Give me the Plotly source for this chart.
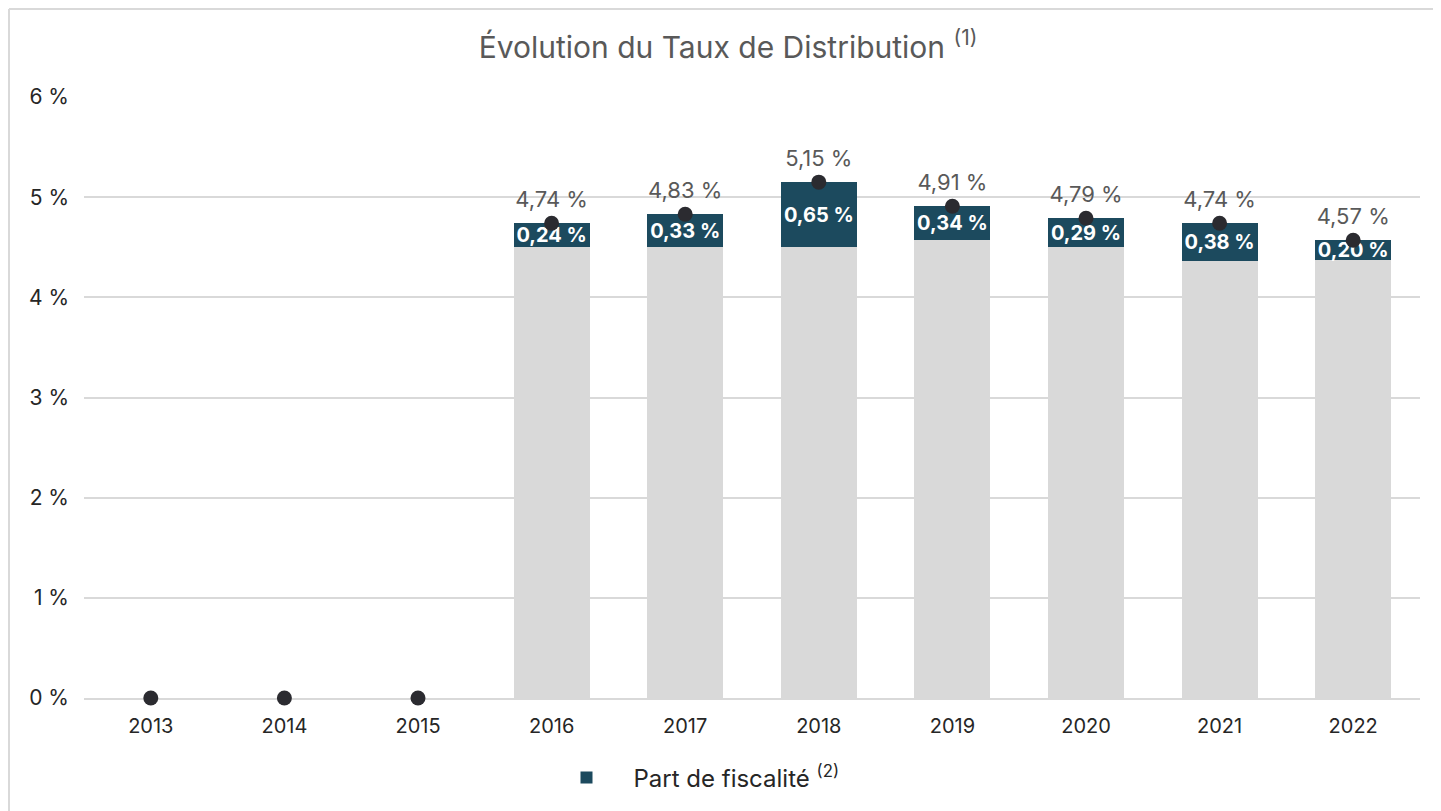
import plotly.graph_objects as go

years = ["2013", "2014", "2015", "2016", "2017", "2018", "2019", "2020", "2021", "2022"]
total_rate = [0, 0, 0, 4.74, 4.83, 5.15, 4.91, 4.79, 4.74, 4.57]
tax_share = [None, None, None, 0.24, 0.33, 0.65, 0.34, 0.29, 0.38, 0.20]
y_ticks = [0, 1, 2, 3, 4, 5, 6]

def fr(v):
    return f"{v:.2f}".replace(".", ",") + " %"

# years with a tax share (labelled points)
lab_years = [y for y, t in zip(years, tax_share) if t is not None]
lab_total = [tot for tot, t in zip(total_rate, tax_share) if t is not None]
lab_tax = [t for t in tax_share if t is not None]
lab_base = [round(tot - t, 2) for tot, t in zip(lab_total, lab_tax)]
zero_years = [y for y, t in zip(years, tax_share) if t is None]
zero_total = [tot for tot, t in zip(total_rate, tax_share) if t is None]

FONT = "Inter"
OFF = 8  # page body margin
W, H = 1441 - OFF, 811 - OFF
L, R, T, B = 84 - OFF, 21, 97 - OFF, 113
pw, ph = W - L - R, H - T - B

fig = go.Figure()
fig.add_trace(go.Bar(
    x=lab_years, y=lab_base, marker=dict(color="#d9d9d9", line=dict(width=0)),
    showlegend=False, hoverinfo="skip", name="Base",
))
fig.add_trace(go.Bar(
    x=lab_years, y=lab_tax, marker=dict(color="#1c4a5e", line=dict(width=0)),
    name="Part de fiscalité <sup>(2)</sup>",
    text=[fr(t) for t in lab_tax], textposition="inside", insidetextanchor="middle",
    constraintext="none",
    textfont=dict(family=FONT, size=20, color="white", weight="bold"),
))
fig.add_trace(go.Scatter(
    x=zero_years, y=zero_total, mode="markers",
    marker=dict(color="#2b2b30", size=15), cliponaxis=False,
    showlegend=False, name="Taux 0",
))
fig.add_trace(go.Scatter(
    x=lab_years, y=lab_total, mode="markers+text",
    marker=dict(color="#2b2b30", size=15), cliponaxis=False,
    text=[fr(v) for v in lab_total], textposition="top center",
    textfont=dict(family=FONT, size=22, color="#595959"),
    showlegend=False, name="Taux",
))

fig.update_layout(
    width=W, height=H,
    barmode="stack", bargap=0.43,
    plot_bgcolor="white", paper_bgcolor="white",
    margin=dict(l=L, r=R, t=T, b=B, autoexpand=False),
    font=dict(family=FONT, color="#262626"),
    title=dict(
        text="Évolution du Taux de Distribution <sup>(1)</sup>",
        font=dict(family=FONT, size=30, color="#595959"),
        xref="container", x=720 / W, xanchor="center",
        yref="container", y=1 - 39 / H, yanchor="middle",
    ),
    xaxis=dict(
        type="category", categoryarray=years, categoryorder="array",
        range=[-0.5, len(years) - 0.5], layer="below traces",
        showgrid=False, showline=True, linecolor="#d9d9d9", linewidth=2,
        tickfont=dict(family=FONT, size=20, color="#262626"), ticks="",
        ticklabelstandoff=9,
    ),
    yaxis=dict(
        range=[0, 6], tickvals=y_ticks, ticktext=[f"{v} %" for v in y_ticks],
        showgrid=True, gridcolor="#d9d9d9", gridwidth=2, zeroline=False,
        layer="below traces",
        tickfont=dict(family=FONT, size=21, color="#262626"), ticks="",
        ticklabelstandoff=14,
    ),
    legend=dict(
        orientation="h", x=(531.5 - L) / pw, xanchor="left",
        y=(T + ph - 770) / ph, yanchor="middle",
        font=dict(family=FONT, size=24, color="#262626"),
        itemwidth=84, bgcolor="rgba(0,0,0,0)",
    ),
    shapes=[
        dict(type="line", xref="paper", yref="paper",
             x0=(1 - L) / pw, x1=(W - L) / pw, y0=(T + ph - 1) / ph, y1=(T + ph - 1) / ph,
             line=dict(color="#d9d9d9", width=2)),
        dict(type="line", xref="paper", yref="paper",
             x0=(1 - L) / pw, x1=(1 - L) / pw, y0=(T + ph - 1) / ph, y1=(T + ph - H) / ph,
             line=dict(color="#d9d9d9", width=2)),
    ],
)

fig.write_html("out.html")
